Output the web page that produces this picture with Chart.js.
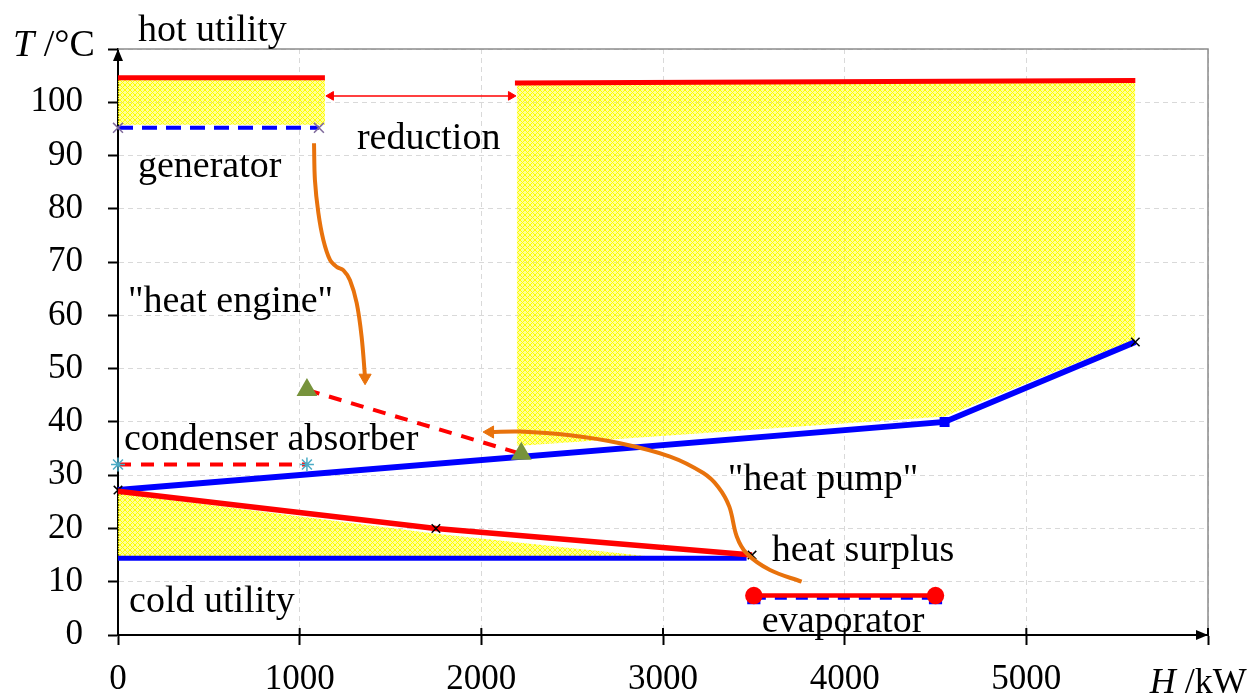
<!DOCTYPE html>
<html>
<head>
<meta charset="utf-8">
<script src="https://cdn.jsdelivr.net/npm/chart.js@4/dist/chart.umd.min.js"></script>
<style>
  body { margin: 0; background: #fff; }
  #wrap { width: 1252px; height: 698px; }
</style>
</head>
<body>
<div id="wrap"><canvas id="tq" width="1252" height="698"></canvas></div>
<script>
// axis ticks
const xTicksMax = 6000;
const yTicksMax = 110;

// hot utility (left block) and generator
const hotA_H = [0, 1139];
const hotA_T = [104.6, 104.6];
const gen_H = [0, 1106];
const gen_T = [95.2, 95.2];

// hot utility (right block)
const hotB_H = [2185, 5600];
const hotB_T = [103.6, 104.1];

// cold composite (blue) and hot composite below it (red)
const coldComp_H = [0, 4550, 5600];
const coldComp_T = [27.2, 40, 55];
const hotComp_H = [0, 1750, 3490];
const hotComp_T = [27, 20, 15];

// cold utility
const coldUtil_H = [0, 3460];
const coldUtil_T = [14.4, 14.4];

// condenser / absorber
const cond_H = [0, 1040];
const cond_T = [32, 32];
const absorb_H = [1040, 2220];
const absorb_T = [46, 34];

// evaporator
const evapRed_H = [3500, 4500];
const evapRed_T = [7.4, 7.4];
const evapBlue_H = [3500, 4500];
const evapBlue_T = [7.0, 7.0];

// reduction arrow
const red_H = [1172, 2163];
const red_T = [101.2, 101.2];

// "heat engine" curve and "heat pump" curve
const engine_H = [1079, 1084, 1103, 1130, 1167, 1204, 1240, 1277, 1314, 1341, 1360];
const engine_T = [92.3, 85.4, 79.2, 74.2, 70.4, 69.1, 68.5, 66.6, 62.3, 56.0, 48.3];
const pump_H = [3763, 3589, 3461, 3406, 3365, 3304, 3222, 3039, 2763, 2488, 2213, 2048];
const pump_T = [10.0, 12.2, 15.3, 18.5, 24.1, 27.8, 30.4, 33.5, 36.0, 37.5, 38.2, 38.1];

// yellow shaded areas
const yelA_H = [0, 1139];
const yelA_T = [104.3, 104.3];
const yelA_base = 95.8;
const yelB_H = [2195, 5600];
const yelB_T = [103.4, 103.8];
const yelBLow_H = [2195, 4550, 5600];
const yelBLow_T = [35.5, 41, 55.5];
const yelC_H = [0, 1750, 2970];
const yelC_T = [26.6, 19, 14.6];
const yelC_base = 14.4;

// text labels (data coordinates, left / baseline)
const notes = [
  { text: 'hot utility', h: 110, t: 111.5 },
  { lead: 'T', text: ' /°C', h: -578, t: 108.6 },
  { text: 'reduction', h: 1315, t: 91.2 },
  { text: 'generator', h: 110, t: 85.9 },
  { text: '"heat engine"', h: 55, t: 60.7 },
  { text: 'condenser absorber', h: 33, t: 34.8 },
  { text: '"heat pump"', h: 3357, t: 27.3 },
  { text: 'heat surplus', h: 3599, t: 13.9 },
  { text: 'cold utility', h: 61, t: 4.3 },
  { text: 'evaporator', h: 3544, t: 0.6 },
  { lead: 'H', text: ' /kW', h: 5680, t: -10.9, size: 36 }
];

const RED = '#ff0000';
const BLUE = '#0000ff';
const ORANGE = '#e8720c';
const SERIF = "'Liberation Serif', 'Times New Roman', serif";

function pts(h, t) {
  return h.map((x, i) => ({ x: x, y: t[i] }));
}

function makePattern() {
  const c = document.createElement('canvas');
  c.width = 5; c.height = 5;
  const g = c.getContext('2d');
  g.fillStyle = 'rgba(255,255,0,0.4)';
  g.fillRect(0, 0, 5, 5);
  g.strokeStyle = '#ffff00';
  g.lineWidth = 1;
  g.beginPath();
  g.moveTo(0, 0); g.lineTo(5, 5);
  g.moveTo(5, 0); g.lineTo(0, 5);
  g.stroke();
  return g.createPattern(c, 'repeat');
}
const yellow = makePattern();

function arrowRadii(n, r) {
  return Array.from({ length: n }, (_, i) => (i === n - 1 ? r : 0));
}

const decor = {
  id: 'decor',
  beforeDatasetsDraw(chart) {
    const { ctx, chartArea: a } = chart;
    ctx.save();
    ctx.strokeStyle = '#8c8c8c';
    ctx.lineWidth = 1.5;
    ctx.beginPath();
    ctx.moveTo(a.left, a.top);
    ctx.lineTo(a.right, a.top);
    ctx.lineTo(a.right, a.bottom);
    ctx.stroke();
    ctx.restore();
  },
  afterDraw(chart) {
    const { ctx, chartArea: a, scales: { x, y } } = chart;
    ctx.save();
    // tick marks crossing above the x axis
    ctx.strokeStyle = '#000';
    ctx.lineWidth = 2;
    x.ticks.forEach(tk => {
      const px = x.getPixelForValue(tk.value);
      ctx.beginPath();
      ctx.moveTo(px, a.bottom - 7);
      ctx.lineTo(px, a.bottom);
      ctx.stroke();
    });
    // axis arrows
    ctx.fillStyle = '#000';
    ctx.beginPath();
    ctx.moveTo(a.left, a.top);
    ctx.lineTo(a.left - 5, a.top + 12);
    ctx.lineTo(a.left + 5, a.top + 12);
    ctx.closePath();
    ctx.fill();
    ctx.beginPath();
    ctx.moveTo(a.right, a.bottom);
    ctx.lineTo(a.right - 12, a.bottom - 5);
    ctx.lineTo(a.right - 12, a.bottom + 5);
    ctx.closePath();
    ctx.fill();
    // labels
    ctx.textAlign = 'left';
    ctx.textBaseline = 'alphabetic';
    notes.forEach(n => {
      const size = n.size || 38;
      let px = x.getPixelForValue(n.h);
      const py = y.getPixelForValue(n.t);
      if (n.lead) {
        ctx.font = 'italic ' + size + 'px ' + SERIF;
        ctx.fillText(n.lead, px, py);
        px += ctx.measureText(n.lead).width;
      }
      ctx.font = size + 'px ' + SERIF;
      ctx.fillText(n.text, px, py);
    });
    ctx.restore();
  }
};

const datasets = [
  { // "heat engine" arrow
    data: pts(engine_H, engine_T), borderColor: ORANGE, borderWidth: 4, tension: 0.35,
    pointStyle: 'triangle', pointRadius: arrowRadii(engine_H.length, 7),
    pointRotation: 180, pointBackgroundColor: ORANGE, pointBorderColor: ORANGE, pointBorderWidth: 1
  },
  { // "heat pump" arrow
    data: pts(pump_H, pump_T), borderColor: ORANGE, borderWidth: 4, tension: 0.35,
    pointStyle: 'triangle', pointRadius: arrowRadii(pump_H.length, 7),
    pointRotation: -90, pointBackgroundColor: ORANGE, pointBorderColor: ORANGE, pointBorderWidth: 1
  },
  { // reduction
    data: pts(red_H, red_T), borderColor: RED, borderWidth: 1.5,
    pointStyle: 'triangle', pointRadius: 5, pointRotation: [-90, 90],
    pointBackgroundColor: RED, pointBorderColor: RED, pointBorderWidth: 1
  },
  { // evaporator red
    data: pts(evapRed_H, evapRed_T), borderColor: RED, borderWidth: 4.5, clip: false,
    pointStyle: 'circle', pointRadius: 6.5, pointBackgroundColor: RED, pointBorderColor: RED
  },
  { // evaporator blue
    data: pts(evapBlue_H, evapBlue_T), borderColor: BLUE, borderWidth: 4, borderDash: [12, 9], clip: false,
    pointStyle: 'rect', pointRadius: 6.5, pointBackgroundColor: BLUE, pointBorderColor: BLUE
  },
  { // absorber
    data: pts(absorb_H, absorb_T), borderColor: RED, borderWidth: 4, borderDash: [13, 10], clip: false,
    pointStyle: 'triangle', pointRadius: 8, pointBackgroundColor: '#77933c', pointBorderColor: '#77933c'
  },
  { // condenser
    data: pts(cond_H, cond_T), borderColor: RED, borderWidth: 4, borderDash: [13, 10], clip: false,
    pointStyle: 'star', pointRadius: 7, pointBorderColor: '#4bacc6', pointBorderWidth: 1.5
  },
  { // hot composite below
    data: pts(hotComp_H, hotComp_T), borderColor: RED, borderWidth: 5.5, clip: false,
    pointStyle: 'crossRot', pointRadius: [0, 6, 6], pointBorderColor: '#000', pointBorderWidth: 1.5
  },
  { // cold composite
    data: pts(coldComp_H, coldComp_T), borderColor: BLUE, borderWidth: 6, clip: false,
    pointStyle: ['crossRot', 'rect', 'crossRot'], pointRadius: [6, 6, 6],
    pointBorderColor: ['#000', BLUE, '#000'], pointBackgroundColor: BLUE, pointBorderWidth: 1.5
  },
  { // cold utility
    data: pts(coldUtil_H, coldUtil_T), borderColor: BLUE, borderWidth: 5, pointRadius: 0
  },
  { // generator
    data: pts(gen_H, gen_T), borderColor: BLUE, borderWidth: 4, borderDash: [15, 9], clip: false,
    pointStyle: 'crossRot', pointRadius: 7, pointBorderColor: '#7f6a9c', pointBorderWidth: 1.5
  },
  { // hot utility left
    data: pts(hotA_H, hotA_T), borderColor: RED, borderWidth: 5, pointRadius: 0
  },
  { // hot utility right
    data: pts(hotB_H, hotB_T), borderColor: RED, borderWidth: 5, pointRadius: 0
  },
  { // yellow A
    data: pts(yelA_H, yelA_T), borderWidth: 0, borderColor: 'rgba(0,0,0,0)', pointRadius: 0,
    backgroundColor: yellow, fill: { value: yelA_base }
  },
  { // yellow B top
    data: pts(yelB_H, yelB_T), borderWidth: 0, borderColor: 'rgba(0,0,0,0)', pointRadius: 0,
    backgroundColor: yellow, fill: 15
  },
  { // yellow B bottom
    data: pts(yelBLow_H, yelBLow_T), borderWidth: 0, borderColor: 'rgba(0,0,0,0)', pointRadius: 0,
    fill: false
  },
  { // yellow C
    data: pts(yelC_H, yelC_T), borderWidth: 0, borderColor: 'rgba(0,0,0,0)', pointRadius: 0,
    backgroundColor: yellow, fill: { value: yelC_base }
  }
];

Chart.defaults.font.family = SERIF;
Chart.defaults.color = '#000';

new Chart(document.getElementById('tq'), {
  type: 'line',
  data: { datasets: datasets },
  options: {
    responsive: false,
    animation: false,
    layout: { padding: { top: 49, right: 44, left: 0, bottom: 0 } },
    plugins: {
      legend: { display: false },
      tooltip: { enabled: false },
      filler: { drawTime: 'beforeDatasetsDraw', propagate: false }
    },
    scales: {
      x: {
        type: 'linear', min: 0, max: xTicksMax,
        ticks: {
          stepSize: 1000, padding: 14, maxRotation: 0,
          font: { size: 35 },
          callback: v => (v === xTicksMax ? '' : String(v))
        },
        grid: { color: '#d9d9d9', tickColor: '#000', tickLength: 10, tickWidth: 2 },
        border: { color: '#000', width: 2, dash: [5, 4] },
        afterFit: s => { s.height = 63; }
      },
      y: {
        type: 'linear', min: 0, max: yTicksMax,
        ticks: {
          stepSize: 10, padding: 25,
          font: { size: 35 },
          callback: v => (v === yTicksMax ? '' : String(v))
        },
        grid: { color: '#d9d9d9', tickColor: '#000', tickLength: 10, tickWidth: 2 },
        border: { color: '#000', width: 2, dash: [5, 4] },
        afterFit: s => { s.width = 118; }
      }
    }
  },
  plugins: [decor]
});
</script>
</body>
</html>
